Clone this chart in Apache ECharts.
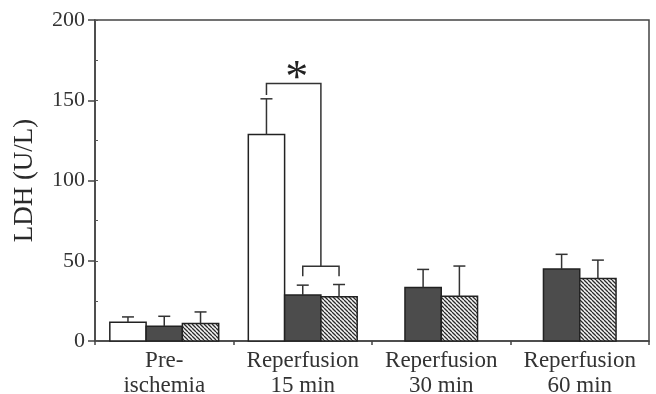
<!DOCTYPE html>
<html>
<head>
<meta charset="utf-8">
<script src="https://cdn.jsdelivr.net/npm/echarts@6/dist/echarts.min.js"></script>
<style>
html,body{margin:0;padding:0;background:#fff;}
#chart{width:656px;height:394px;}
</style>
</head>
<body>
<div id="chart"></div>
<script>
// ---- data ----
const categories = ['Pre-\nischemia', 'Reperfusion\n15 min', 'Reperfusion\n30 min', 'Reperfusion\n60 min'];
const yTickValues = [0, 50, 100, 150, 200];
const controlMean = [11.7, 128.6, null, null];
const controlErr  = [3.3, 22.3, null, null];
const darkMean    = [9.2, 28.6, 33.4, 44.8];
const darkErr     = [6.2, 6.2, 11.2, 9.2];
const hatchMean   = [10.9, 27.5, 27.9, 39.0];
const hatchErr    = [7.2, 7.7, 18.8, 11.4];
// significance bracket levels (U/L): [top, left leg end, right leg end]
const bracketUpper = [160.4, 153.3, 46.6];
// lower bracket: [top, legs end]
const bracketLower = [46.6, 40.4];
const sigCategory = 1;

// ---- hatch pattern ----
function makeHatch() {
  const s = 4;
  const c = document.createElement('canvas');
  c.width = s; c.height = s;
  const ctx = c.getContext('2d');
  ctx.fillStyle = '#f4f4f4';
  ctx.fillRect(0, 0, s, s);
  ctx.strokeStyle = '#2a2a2a';
  ctx.lineWidth = 1.3;
  ctx.beginPath();
  for (const k of [-s, 0, s]) {
    ctx.moveTo(k, 0);
    ctx.lineTo(k + s, s);
  }
  ctx.stroke();
  return c;
}
const hatchCanvas = makeHatch();

const groups = [
  { name: 'Control', mean: controlMean, err: controlErr, fill: '#ffffff' },
  { name: 'Dark', mean: darkMean, err: darkErr, fill: '#4c4c4c' },
  { name: 'Hatched', mean: hatchMean, err: hatchErr, fill: { image: hatchCanvas, repeat: 'repeat' } }
];
const BAR_FRAC = 0.262;

function presentGroups(cat) {
  const out = [];
  groups.forEach((g, i) => { if (g.mean[cat] !== null && g.mean[cat] !== undefined) out.push(i); });
  return out;
}
function barCenterX(api, cat, gi) {
  const pres = presentGroups(cat);
  const n = pres.length;
  const slot = pres.indexOf(gi);
  const w = api.size([1, 0])[0] * BAR_FRAC;
  const base = api.coord([cat, 0]);
  return { cx: base[0] + (slot - (n - 1) / 2) * w, w: w, baseY: base[1] };
}

function makeSeries(gi) {
  const g = groups[gi];
  const data = [];
  g.mean.forEach((m, i) => { if (m !== null) data.push([i, m, g.err[i]]); });
  return {
    type: 'custom',
    name: g.name,
    data: data,
    encode: { x: 0, y: 1 },
    z: 3,
    renderItem: function (params, api) {
      const cat = api.value(0), mean = api.value(1), err = api.value(2);
      const p = barCenterX(api, cat, gi);
      const top = api.coord([cat, mean])[1];
      const et = api.coord([cat, mean + err])[1];
      const cap = 6;
      return {
        type: 'group',
        children: [
          { type: 'rect', shape: { x: p.cx - p.w / 2, y: top, width: p.w, height: p.baseY - top },
            style: { fill: g.fill, stroke: '#222', lineWidth: 1.5 } },
          { type: 'line', shape: { x1: p.cx, y1: top, x2: p.cx, y2: et },
            style: { stroke: '#333', lineWidth: 1.5 } },
          { type: 'line', shape: { x1: p.cx - cap, y1: et, x2: p.cx + cap, y2: et },
            style: { stroke: '#333', lineWidth: 1.5 } }
        ]
      };
    }
  };
}

const annotationSeries = {
  type: 'custom',
  name: 'sig',
  data: [[sigCategory, bracketUpper[0]]],
  encode: { x: 0, y: 1 },
  z: 4,
  silent: true,
  renderItem: function (params, api) {
    const cat = api.value(0);
    const a = barCenterX(api, cat, 0);
    const b = barCenterX(api, cat, 1);
    const c = barCenterX(api, cat, 2);
    const mid = (b.cx + c.cx) / 2;
    const y = v => api.coord([cat, v])[1];
    const st = { stroke: '#333', lineWidth: 1.5, fill: null };
    return {
      type: 'group',
      children: [
        { type: 'polyline', shape: { points: [[a.cx, y(bracketUpper[1])], [a.cx, y(bracketUpper[0])], [mid, y(bracketUpper[0])], [mid, y(bracketUpper[2])]] }, style: st },
        { type: 'polyline', shape: { points: [[b.cx, y(bracketLower[1])], [b.cx, y(bracketLower[0])], [c.cx, y(bracketLower[0])], [c.cx, y(bracketLower[1])]] }, style: st },
        { type: 'text', style: { text: '*', x: (a.cx + mid) / 2 + 3, y: y(bracketUpper[0]) + 19,
            font: '46px "Liberation Serif"', fill: '#222', textAlign: 'center', textVerticalAlign: 'bottom' } }
      ]
    };
  }
};

const chart = echarts.init(document.getElementById('chart'));
chart.setOption({
  animation: false,
  backgroundColor: '#ffffff',
  grid: { left: 95, right: 7, top: 20, bottom: 53, containLabel: false, outerBoundsMode: 'none',
          show: true, borderColor: '#444', borderWidth: 1.5, backgroundColor: 'transparent' },
  xAxis: {
    type: 'category',
    data: categories,
    boundaryGap: true,
    axisLine: { lineStyle: { color: '#444', width: 1.5 } },
    axisTick: { show: true, length: 4, interval: 0, lineStyle: { color: '#444', width: 1.5 } },
    axisLabel: { fontFamily: 'Liberation Serif', fontSize: 23, lineHeight: 25, color: '#333', margin: 7, interval: 0 }
  },
  yAxis: [{
    type: 'value',
    min: yTickValues[0], max: yTickValues[yTickValues.length - 1], interval: 50,
    name: 'LDH (U/L)', nameLocation: 'middle', nameGap: 57,
    nameTextStyle: { fontFamily: 'Liberation Serif', fontSize: 27, color: '#2a2a2a' },
    axisLine: { show: true, lineStyle: { color: '#444', width: 1.5 } },
    axisTick: { show: true, length: 7, lineStyle: { color: '#444', width: 1.5 } },
    axisLabel: { fontFamily: 'Liberation Serif', fontSize: 22, color: '#333', margin: 10 },
    splitLine: { show: false }
  }, {
    type: 'value',
    position: 'left',
    min: 0, max: 200, interval: 25,
    axisLine: { show: false },
    axisTick: { show: true, inside: true, length: 3, lineStyle: { color: '#555', width: 1 } },
    axisLabel: { show: false },
    splitLine: { show: false }
  }],
  series: [makeSeries(0), makeSeries(1), makeSeries(2), annotationSeries]
});
</script>
</body>
</html>
